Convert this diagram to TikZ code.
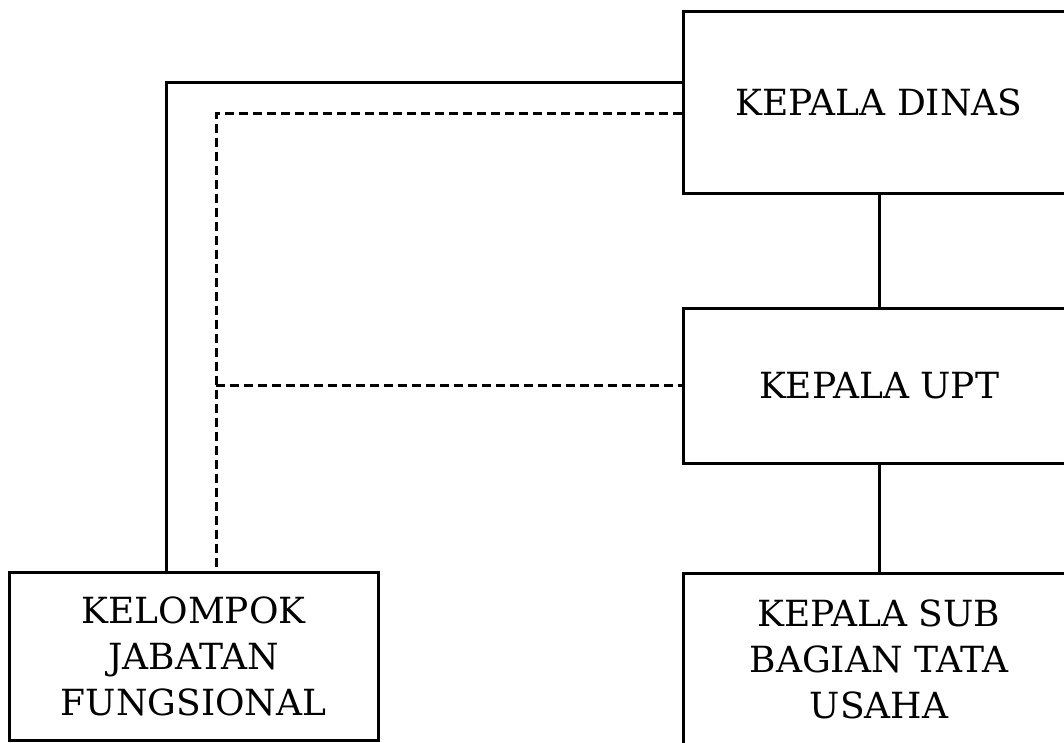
\documentclass[tikz,border=0pt]{standalone}
\usepackage{fontspec}
\setmainfont{DejaVu Serif}
\begin{document}
\begin{tikzpicture}[x=1pt,y=-1pt,
  box/.style={draw, line width=3pt, rectangle, align=center, inner sep=0pt,
    font=\fontsize{36}{46}\selectfont},
  link/.style={line width=3pt},
  dlink/.style={line width=3pt, dash pattern=on 9pt off 5pt}]
\useasboundingbox (0,0) rectangle (1064,742);
\clip (0,0) rectangle (1064,742);
\fill[white] (0,0) rectangle (1064,742);
\node[box, minimum width=392pt, minimum height=182pt] (dinas) at (879,102) {KEPALA DINAS};
\node[box, minimum width=392pt, minimum height=155pt] (upt) at (879,385.5) {KEPALA UPT};
\node[box, minimum width=392pt, minimum height=180pt] (sub) at (879,663) {};
\node[font=\fontsize{36}{46}\selectfont, align=center] (subt) at (879,659) {KEPALA SUB\\BAGIAN TATA\\USAHA};
\node[box, minimum width=369pt, minimum height=168pt] (kel) at (193.5,656) {KELOMPOK\\JABATAN\\FUNGSIONAL};
\coordinate (s1) at (166,82);
\coordinate (d1) at (216,113);
\draw[link] (s1 -| dinas.west) -| (kel.north -| s1);
\draw[dlink] (d1 -| dinas.west) -| (kel.north -| d1);
\draw[dlink] (d1 |- upt.west) -- (upt.west);
\draw[link] (dinas.south) -- (upt.north);
\draw[link] (upt.south) -- (sub.north);
\end{tikzpicture}
\end{document}
